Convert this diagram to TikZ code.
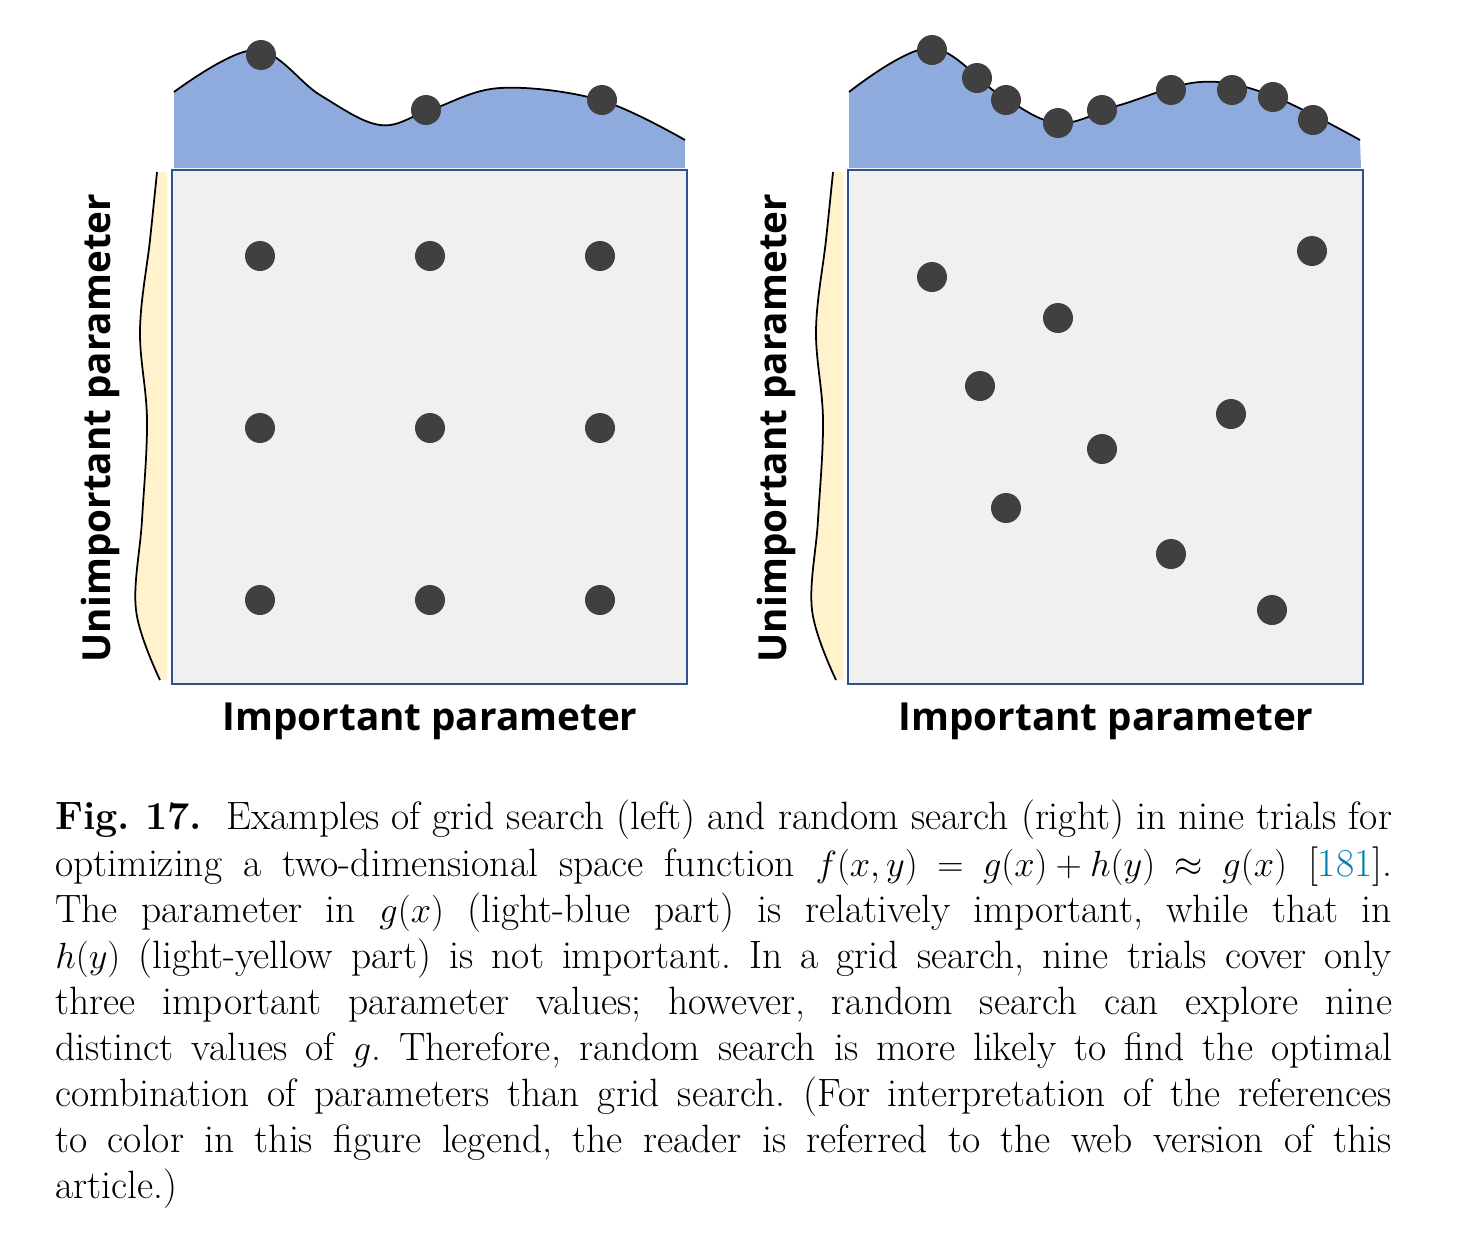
\documentclass[tikz,border=0pt]{standalone}
\usepackage{fontspec}
\newfontfamily\labfont{Open Sans}
\usepackage{amsmath}
\definecolor{gblue}{RGB}{143,170,220}
\definecolor{hyellow}{RGB}{255,242,204}
\definecolor{boxgray}{RGB}{240,240,240}
\definecolor{boxline}{RGB}{47,82,143}
\definecolor{dotgray}{RGB}{64,64,64}
\definecolor{citeblue}{RGB}{0,128,172}
\tikzset{
  dot/.style={circle,fill=dotgray,minimum size=0.6cm,inner sep=0pt},
  panel/.style={draw=boxline,line width=1.2pt,fill=boxgray},
  axislabel/.style={font=\labfont\fontsize{22}{26}\selectfont\bfseries}
}
\begin{document}
\begin{tikzpicture}[x=0.02cm,y=-0.02cm]
\useasboundingbox (0,0) rectangle (1457,1242);
% left: grid search
\fill[gblue] (174,168) -- plot[smooth,tension=0.6] coordinates {(174,92) (255,50) (320,95) (380,125) (430,110) (500,88) (600,100) (685,140)} -- (685,168) -- cycle;
\draw[line width=1pt] plot[smooth,tension=0.6] coordinates {(174,92) (255,50) (320,95) (380,125) (430,110) (500,88) (600,100) (685,140)};
\fill[hyellow] (167,172) -- plot[smooth,tension=0.6] coordinates {(157,172) (150,240) (140,330) (147,420) (142,520) (136,610) (160,680)} -- (167,680) -- cycle;
\draw[line width=1pt] plot[smooth,tension=0.6] coordinates {(157,172) (150,240) (140,330) (147,420) (142,520) (136,610) (160,680)};
\draw[panel] (172,170) rectangle (687,684);
\foreach \i/\x in {1/260,2/430,3/600}
  \foreach \j/\y in {1/256,2/428,3/600}
    \node[dot] (gs\i\j) at (\x,\y) {};
\node[dot] (gt1) at (261,55) {};
\node[dot] (gt2) at (426,110) {};
\node[dot] (gt3) at (602,100) {};
\node[axislabel] (gx) at (430,721) {Important parameter};
\node[axislabel,rotate=90] (gy) at (100,428) {Unimportant parameter};
% right: random search
\fill[gblue] (849,168) -- plot[smooth,tension=0.6] coordinates {(849,92) (930,48) (1000,95) (1058,123) (1120,105) (1200,82) (1270,95) (1360,140)} -- (1361,168) -- cycle;
\draw[line width=1pt] plot[smooth,tension=0.6] coordinates {(849,92) (930,48) (1000,95) (1058,123) (1120,105) (1200,82) (1270,95) (1360,140)};
\fill[hyellow] (843,172) -- plot[smooth,tension=0.6] coordinates {(833,172) (826,240) (816,330) (823,420) (818,520) (812,610) (836,680)} -- (843,680) -- cycle;
\draw[line width=1pt] plot[smooth,tension=0.6] coordinates {(833,172) (826,240) (816,330) (823,420) (818,520) (812,610) (836,680)};
\draw[panel] (848,170) rectangle (1363,684);
\foreach \x/\y [count=\k] in {932/50,977/78,1006/100,1058/123,1102/110,1171/90,1232/90,1273/97,1313/120}
  \node[dot] (rt\k) at (\x,\y) {};
\foreach \x/\y [count=\k] in {932/277,1058/318,980/386,1102/449,1006/508,1171/554,1231/414,1272/610,1312/251}
  \node[dot] (rs\k) at (\x,\y) {};
\node[axislabel] (rx) at (1106,721) {Important parameter};
\node[axislabel,rotate=90] (ry) at (776,428) {Unimportant parameter};
% caption
\node[anchor=north west,inner sep=0pt,text width=26.74cm,align=justify,
  font=\fontsize{22.5}{26.2}\selectfont\frenchspacing] (cap) at (55,800) {%
\textbf{Fig.~17.}\ \ Examples of grid search (left) and random search (right) in nine trials for\linebreak
optimizing a two-dimensional space function $f(x,y)\!=\!g(x)\!+\!h(y)\!\approx\! g(x)$ [{\color{citeblue}181}].\linebreak
The parameter in $g(x)$ (light-blue part) is relatively important, while that in\linebreak
$h(y)$ (light-yellow part) is not important. In a grid search, nine trials cover only\linebreak
three important parameter values; however, random search can explore nine\linebreak
distinct values of $g$. Therefore, random search is more likely to find the optimal\linebreak
combination of parameters than grid search. (For interpretation of the references\linebreak
to color in this figure legend, the reader is referred to the web version of this\linebreak
article.)};
\end{tikzpicture}
\end{document}
